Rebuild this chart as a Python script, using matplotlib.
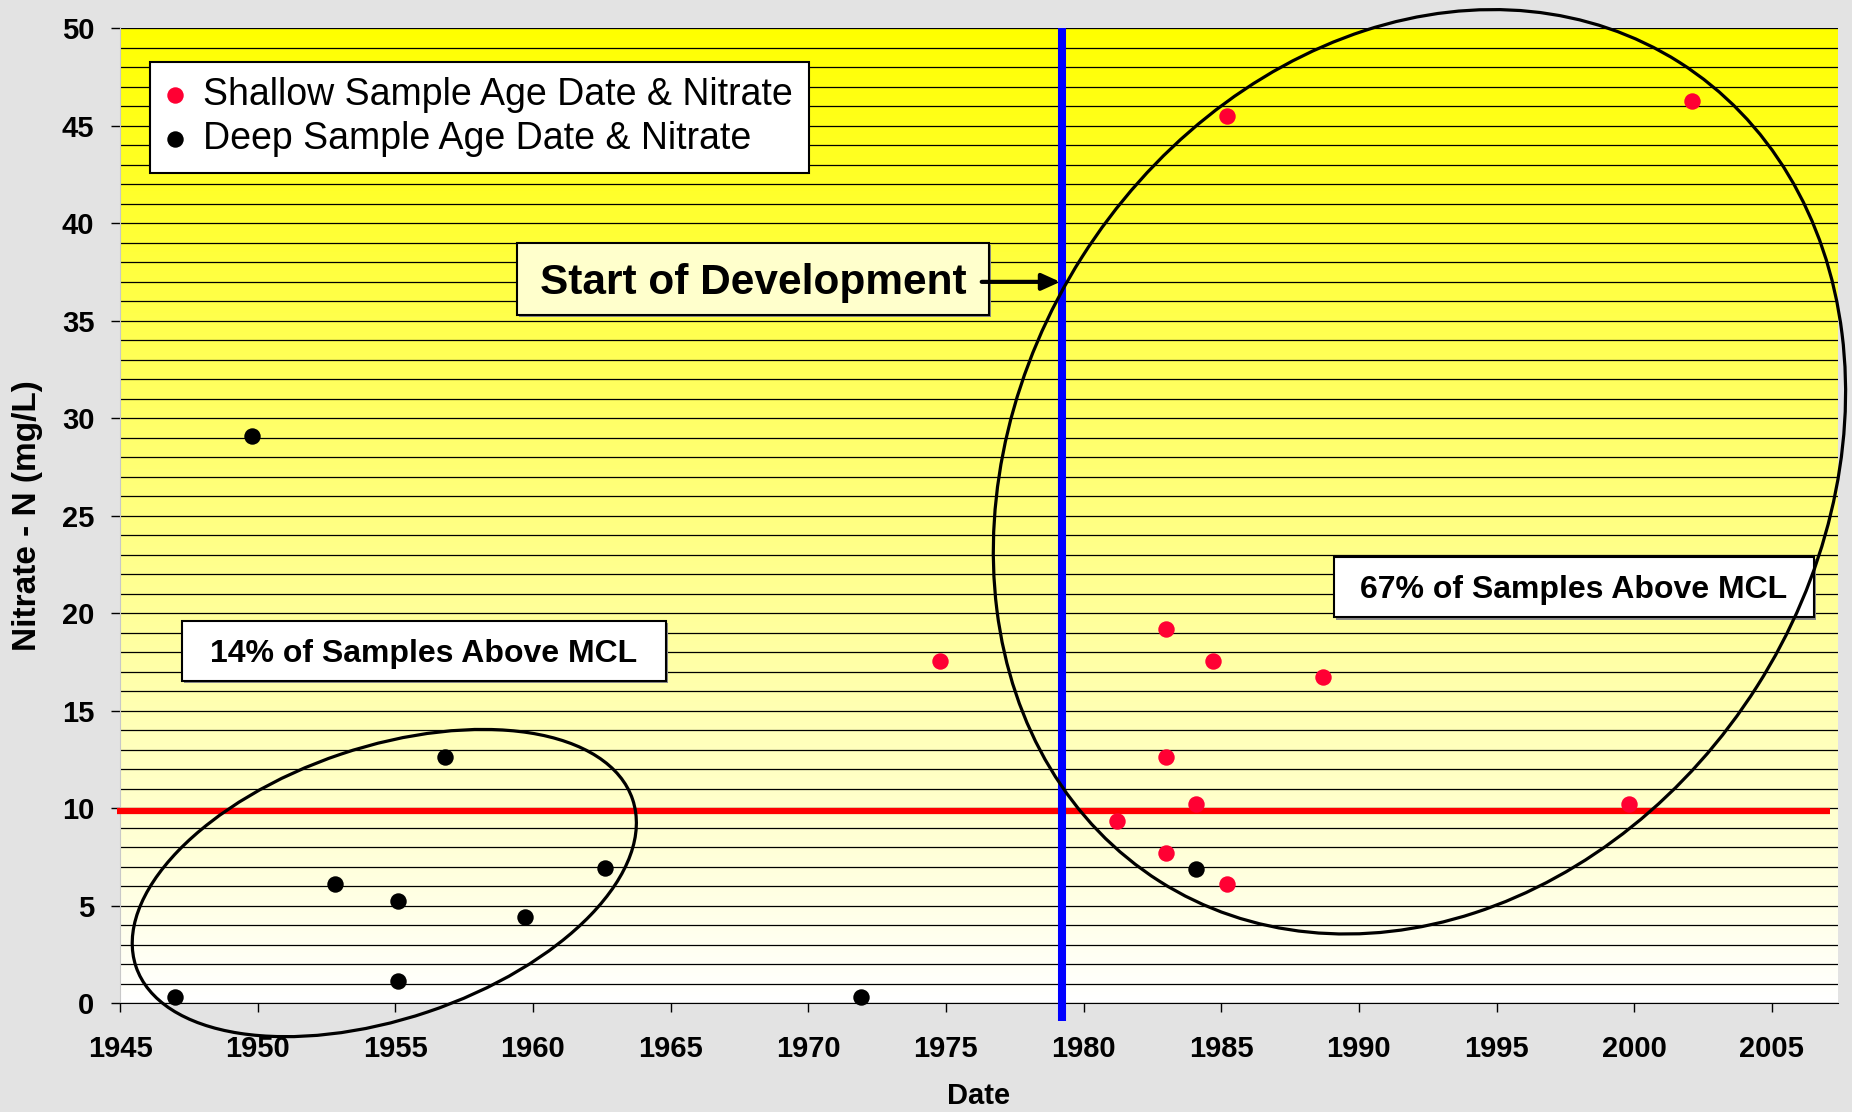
import numpy as np
import matplotlib.pyplot as plt
from matplotlib.colors import LinearSegmentedColormap
from matplotlib.patches import Ellipse, Rectangle
from matplotlib.transforms import ScaledTranslation

plt.rcParams['font.family'] = ['Liberation Sans', 'DejaVu Sans']

# Deep wells : age date (year) and nitrate (mg/L)
deep_year = [1947.0, 1949.8, 1952.8, 1955.1, 1955.1, 1956.8, 1959.7, 1962.6, 1971.9, 1984.1]
deep_no3 = [0.35, 29.1, 6.1, 5.25, 1.15, 12.65, 4.45, 6.95, 0.35, 6.9]

# Shallow wells
shallow_year = [1974.8, 1981.2, 1983.0, 1983.0, 1983.0, 1984.1, 1984.7, 1985.2, 1985.2, 1988.7, 1999.8, 2002.1]
shallow_no3 = [17.55, 9.35, 19.2, 12.65, 7.7, 10.2, 17.55, 6.1, 45.5, 16.75, 10.2, 46.3]

mcl = 9.85
start_dev = 1979.2
x_ticks = list(range(1945, 2010, 5))
y_ticks = list(range(0, 55, 5))

fig = plt.figure(figsize=(18.52, 11.12), dpi=100, facecolor='#e3e3e3')
ax = fig.add_axes([0.0648, 0.0977, 0.9276, 0.8768])

# fond degrade jaune -> blanc
grad = np.linspace(0, 1, 256).reshape(-1, 1)
cmap = LinearSegmentedColormap.from_list('bg', ['#ffffff', '#ffff00'])
ax.imshow(grad, cmap=cmap, extent=[0, 1, 0, 1], transform=ax.transAxes,
          aspect='auto', origin='lower', zorder=0)

# grille horizontale a chaque unite
ax.set_yticks(y_ticks)
ax.set_yticks(np.arange(0, 51, 1), minor=True)
ax.set_xticks(x_ticks)
ax.yaxis.grid(True, which='both', color='black', lw=0.9)
ax.set_axisbelow(True)
ax.tick_params(axis='y', which='minor', length=0)
ax.tick_params(axis='both', which='major', direction='out', length=6.5, width=1,
               color='black', labelsize=21)
ax.tick_params(axis='x', pad=16)
ax.tick_params(axis='y', pad=12)
for lab in ax.get_xticklabels() + ax.get_yticklabels():
    lab.set_fontweight('bold')

ax.spines['top'].set_visible(False)
ax.spines['right'].set_visible(False)
ax.spines['left'].set_color('#c8c8c8')
ax.spines['bottom'].set_color('black')

# points
ax.scatter(shallow_year, shallow_no3, s=140, color='#ff0033', linewidths=0,
           label='Shallow Sample Age Date & Nitrate', zorder=4, clip_on=False)
ax.scatter(deep_year, deep_no3, s=140, color='black', linewidths=0,
           label='Deep Sample Age Date & Nitrate', zorder=4, clip_on=False)

# MCL et debut du developpement
ax.hlines(mcl, 1944.9, 2007.1, colors='#ff0000', lw=4.5, zorder=3, clip_on=False)
ax.vlines(start_dev, -0.9, 50, colors='#0000ff', lw=5.8, zorder=3, clip_on=False)


def ring(cx, cy, w, h, ang):
    # ellipse en pouces, centree sur un point de donnees
    e = Ellipse((0, 0), w, h, angle=ang, fill=False, lw=2.3, ec='black',
                transform=fig.dpi_scale_trans + ScaledTranslation(cx, cy, ax.transData),
                clip_on=False, zorder=8)
    ax.add_patch(e)


ring(1954.6, 6.17, 5.24, 2.72, 18.6)
ring(1992.2, 27.26, 9.70, 8.00, 57.6)


def label_box(x0, y0, w, h, txt, fc, fs):
    ax.add_patch(Rectangle((x0 + 0.0012, y0 - 0.0025), w, h, transform=ax.transAxes,
                           fc='#8a8a8a', ec='none', zorder=6))
    ax.add_patch(Rectangle((x0, y0), w, h, transform=ax.transAxes,
                           fc=fc, ec='black', lw=1.5, zorder=6))
    cap = 0.716 * fs / 72 * 100 / 975
    ax.text(x0 + w / 2, y0 + h / 2 - cap / 2, txt, transform=ax.transAxes,
            ha='center', va='baseline', fontsize=fs, fontweight='bold', zorder=7)


label_box(0.0358, 0.3309, 0.2818, 0.0615, '14% of Samples Above MCL', 'white', 23)
label_box(0.7066, 0.3959, 0.2794, 0.0622, '67% of Samples Above MCL', 'white', 23)
label_box(0.2312, 0.7060, 0.2744, 0.0742, 'Start of Development', '#ffffcc', 30.5)

ax.annotate('', xy=(start_dev - 0.05, 37.0), xytext=(1976.3, 37.0),
            arrowprops=dict(arrowstyle='-|>,head_length=0.55,head_width=0.25',
                            lw=3, color='black', shrinkA=0, shrinkB=0,
                            mutation_scale=20), zorder=7)

leg = ax.legend(loc='upper left', bbox_to_anchor=(0.0175, 0.966), fontsize=27,
                frameon=True, fancybox=False, edgecolor='black', framealpha=1,
                borderpad=0.42, labelspacing=0.2, handlelength=0.5,
                handletextpad=0.5, borderaxespad=0, scatterpoints=1)
leg.get_frame().set_linewidth(1.5)
leg.set_zorder(9)

ax.set_xlabel('Date', fontsize=21, fontweight='bold')
ax.xaxis.set_label_coords(0.5, -0.0807)
ax.set_ylabel('Nitrate - N (mg/L)', fontsize=24, fontweight='bold')
ax.yaxis.set_label_coords(-0.0448, 0.5)

ax.set_xlim(1945, 2007.4)
ax.set_ylim(0, 50)

fig.savefig('out.png', dpi=100, facecolor=fig.get_facecolor())
